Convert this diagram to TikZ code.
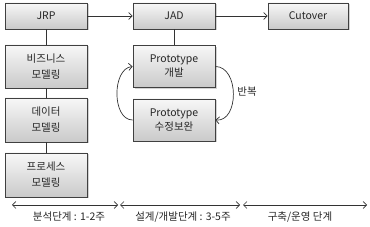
\documentclass[tikz,border=0pt]{standalone}
\usepackage{fontspec}
\setmainfont{Noto Sans CJK KR}
\usetikzlibrary{arrows.meta,shadows}
\begin{document}
\begin{tikzpicture}[x=1pt,y=-1pt,
  box/.style={draw=black!75, line width=0.7pt, top color=gray!6, bottom color=gray!42,
    minimum width=82pt, align=center, inner sep=0pt,
    font=\fontsize{10.5}{16}\selectfont, text=black!85,
    drop shadow={shadow xshift=1.5pt, shadow yshift=-1.5pt, opacity=0.35}},
  conn/.style={draw=black!80, line width=0.7pt},
  arr/.style={conn, -{Straight Barb[length=3.5pt,width=7pt]}},
  darr/.style={conn, {Straight Barb[length=3.5pt,width=7pt]}-{Straight Barb[length=3.5pt,width=7pt]}},
  lbl/.style={font=\fontsize{10.5}{12}\selectfont, text=black!85, inner sep=0pt}]
\useasboundingbox (0,0) rectangle (370,227);
% left column
\node[box, minimum height=26pt] (jrp) at (46,16) {JRP};
\node[box, minimum height=43pt] (biz) at (46,66.5) {비즈니스\\모델링};
\node[box, minimum height=44pt] (data) at (46,120) {데이터\\모델링};
\node[box, minimum height=44pt] (proc) at (46,175) {프로세스\\모델링};
% middle column
\node[box, minimum height=26pt] (jad) at (174,16) {JAD};
\node[box, minimum height=42pt, font=\fontsize{10.5}{14}\selectfont] (p1) at (174,66.5) {Prototype\\개발};
\node[box, minimum height=42pt, font=\fontsize{10.5}{14}\selectfont] (p2) at (174,120) {Prototype\\수정보완};
% right
\node[box, minimum height=26pt, minimum width=80pt] (cut) at (308,16) {Cutover};
% connectors
\draw[arr] (jrp) -- (jad);
\draw[arr] (jad) -- (cut);
\draw[conn] (jrp) -- (biz);
\draw[conn] (biz) -- (data);
\draw[conn] (data) -- (proc);
\draw[conn] (jad) -- (p1);
\draw[arr] (p2.west) to[out=180,in=185,looseness=1] (p1.west);
\draw[arr] (p1.east) to[out=0,in=-5,looseness=1.15] (p2.east);
\node[lbl] (rep) at (247,92) {반복};
% timeline
\coordinate (t0) at (12,205);
\coordinate (t1) at (118,205);
\coordinate (t1b) at (120,205);
\coordinate (t2) at (240,205);
\coordinate (t2b) at (243,205);
\coordinate (t3) at (367,205);
\draw[darr] (t0) -- (t1);
\draw[darr] (t1b) -- (t2);
\draw[darr] (t2b) -- (t3);
\node[lbl] (ph1) at (69,217) {분석단계 : 1-2주};
\node[lbl] (ph2) at (183,217) {설계/개발단계 : 3-5주};
\node[lbl] (ph3) at (300,217) {구축/운영 단계};
\end{tikzpicture}
\end{document}
